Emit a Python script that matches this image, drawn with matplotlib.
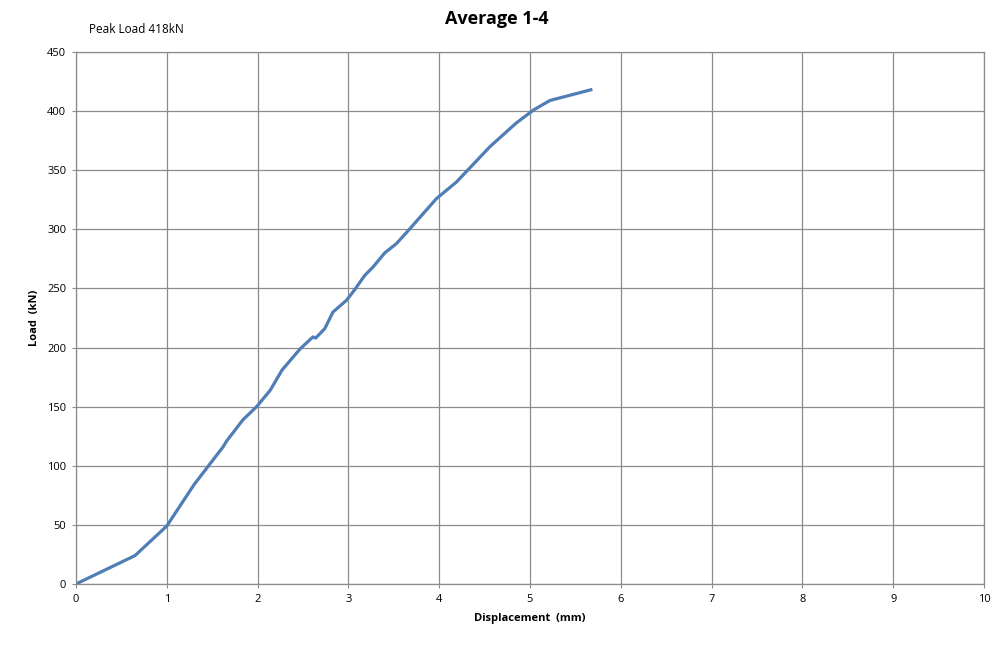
import matplotlib.pyplot as plt

plt.rcParams['font.family'] = ['Open Sans', 'DejaVu Sans']

# displacement (mm) vs load (kN)
disp = [0.0, 0.65, 1.0, 1.3, 1.62, 1.66, 1.84, 1.99, 2.14, 2.27, 2.47, 2.61, 2.64,
        2.74, 2.83, 2.98, 3.07, 3.18, 3.27, 3.40, 3.53, 3.66, 3.97, 4.19, 4.56,
        4.85, 5.04, 5.22, 5.67]
load = [0, 24, 49, 84, 116, 121, 139, 150, 164, 181, 199, 209, 208,
        216, 230, 240, 249, 261, 268, 280, 288, 299, 326, 340, 370,
        390, 401, 409, 418]

grid_col = '#8c8c8c'
line_col = '#4f7db5'

fig = plt.figure(figsize=(9.93, 6.48), dpi=100)
ax = fig.add_axes([0.0765, 0.0988, 0.9145, 0.821])

ax.plot(disp, load, color=line_col, lw=2.3, solid_joinstyle='round')

ax.set_xlim(0, 10)
ax.set_ylim(0, 450)
ax.set_xticks(range(0, 11))
ax.set_yticks(range(0, 451, 50))
ax.grid(True, color=grid_col, lw=0.9)
ax.set_axisbelow(True)
for s in ax.spines.values():
    s.set_color(grid_col)
    s.set_linewidth(0.9)
ax.tick_params(axis='both', labelsize=8, length=3, color=grid_col, pad=4)

ax.set_xlabel('Displacement  (mm)', fontsize=8, fontweight='bold', labelpad=6)
ax.set_ylabel('Load  (kN)', fontsize=8, fontweight='bold', labelpad=5)

fig.text(0.5, 0.970, 'Average 1-4', ha='center', va='center', fontsize=13, fontweight='bold')
fig.text(0.090, 0.955, 'Peak Load 418kN', ha='left', va='center', fontsize=8.5)

fig.savefig('out.png', dpi=100)
